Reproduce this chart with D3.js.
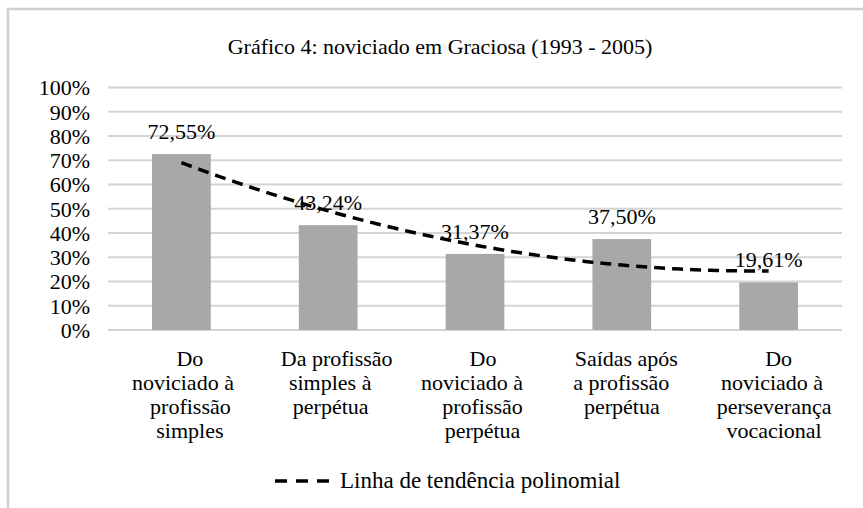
<!DOCTYPE html>
<html>
<head>
<meta charset="utf-8">
<script src="https://cdn.jsdelivr.net/npm/d3@7"></script>
<style>
  svg text, text, tspan { font-family: "Liberation Serif", "Times New Roman", Times, serif !important; }
</style>
</head>
<body style="margin:0; background:#fff">
<svg id="chart" width="863" height="508" style="display:block; font-family: 'Liberation Serif'"></svg>
<script>
// ---- data ----
const title = "Gráfico 4: noviciado em Graciosa (1993 - 2005)";
const categories = [
  "Do\nnoviciado à\nprofissão\nsimples",
  "Da profissão\nsimples à\nperpétua",
  "Do\nnoviciado à\nprofissão\nperpétua",
  "Saídas após\na profissão\nperpétua",
  "Do\nnoviciado à\nperseverança\nvocacional"
];
const values = [72.55, 43.24, 31.37, 37.50, 19.61];
const valueLabels = ["72,55%", "43,24%", "31,37%", "37,50%", "19,61%"];
const yTicks = [0, 10, 20, 30, 40, 50, 60, 70, 80, 90, 100];
const legendLabel = "Linha de tendência polinomial";

// ---- polynomial (order 2) least-squares trendline, as in the source spreadsheet ----
function polyFit2(ys) {
  const xs = ys.map((_, i) => i + 1);
  const n = xs.length;
  const S = k => d3.sum(xs, x => Math.pow(x, k));
  const T = k => d3.sum(xs.map((x, i) => Math.pow(x, k) * ys[i]));
  const A = [[n, S(1), S(2)], [S(1), S(2), S(3)], [S(2), S(3), S(4)]];
  const b = [T(0), T(1), T(2)];
  for (let i = 0; i < 3; i++) {
    for (let j = i + 1; j < 3; j++) {
      const f = A[j][i] / A[i][i];
      for (let k = i; k < 3; k++) A[j][k] -= f * A[i][k];
      b[j] -= f * b[i];
    }
  }
  const c = [0, 0, 0];
  for (let i = 2; i >= 0; i--) {
    let s = b[i];
    for (let k = i + 1; k < 3; k++) s -= A[i][k] * c[k];
    c[i] = s / A[i][i];
  }
  return x => c[0] + c[1] * x + c[2] * x * x;
}

// ---- layout ----
const svg = d3.select("#chart");
const plot = { left: 108, right: 842, top: 87.5, bottom: 330 };
const FS = 22;
// small horizontal nudges of wrapped category-label lines (layout only)
const lineNudge = [
  [8.5, 1.5, 9, 8.5],
  [8.5, 2, 2.5],
  [8, -3, 7.5, 7.5],
  [4.5, -0.5, 0],
  [10, 3.5, 5.5, 5.5]
];

svg.append("rect")
  .attr("x", 8).attr("y", 9).attr("width", 900).attr("height", 600)
  .attr("fill", "#fff").attr("stroke", "#cfcfcf").attr("stroke-width", 2.5);

const x = d3.scaleBand()
  .domain(d3.range(categories.length))
  .range([plot.left, plot.right])
  .paddingInner(0.6).paddingOuter(0.3);
const y = d3.scaleLinear().domain([0, 100]).range([plot.bottom, plot.top]);

function txt(sel, size = FS) {
  return sel
    .attr("font-family", "Liberation Serif")
    .attr("font-size", size)
    .attr("fill", "#000")
    .style("font-family", "'Liberation Serif'")
    .style("font-size", size + "px");
}

// title
svg.append("text")
  .attr("x", 440).attr("y", 54)
  .attr("text-anchor", "middle")
  .call(txt)
  .text(title);

// gridlines
svg.append("g").selectAll("line").data(yTicks).join("line")
  .attr("x1", plot.left).attr("x2", plot.right)
  .attr("y1", d => y(d)).attr("y2", d => y(d))
  .attr("stroke", "#d4d4d4").attr("stroke-width", 1.8);

// y axis labels
const yAxis = d3.axisLeft(y).tickValues(yTicks).tickFormat(d => d + "%").tickSize(0).tickPadding(18);
const gy = svg.append("g").attr("transform", `translate(${plot.left},0)`).call(yAxis);
gy.attr("font-family", "Liberation Serif").attr("font-size", FS);
gy.select(".domain").remove();
gy.selectAll("text").call(txt).attr("dy", "0.34em");

// bars
svg.append("g").selectAll("rect").data(values).join("rect")
  .attr("x", (d, i) => x(i))
  .attr("width", x.bandwidth())
  .attr("y", d => y(d))
  .attr("height", d => y(0) - y(d))
  .attr("fill", "#a8a8a8");

// data labels
svg.append("g").selectAll("text").data(values).join("text")
  .attr("x", (d, i) => x(i) + x.bandwidth() / 2)
  .attr("y", d => y(d) - 15)
  .attr("text-anchor", "middle")
  .call(txt)
  .text((d, i) => valueLabels[i]);

// category labels
const catG = svg.append("g");
categories.forEach((c, i) => {
  const t = catG.append("text")
    .attr("text-anchor", "middle")
    .call(txt);
  c.split("\n").forEach((line, j) => {
    t.append("tspan")
      .attr("x", x(i) + x.bandwidth() / 2 + lineNudge[i][j])
      .attr("y", 366 + j * 24)
      .text(line);
  });
});

// trendline
const fit = polyFit2(values);
const samples = d3.range(0, 4.0001, 0.05).map(t => t + 1);
const line = d3.line()
  .x(t => x(0) + x.bandwidth() / 2 + (t - 1) * x.step())
  .y(t => y(fit(t)));
svg.append("path")
  .datum(samples)
  .attr("d", line)
  .attr("fill", "none")
  .attr("stroke", "#000")
  .attr("stroke-width", 3.5)
  .attr("stroke-dasharray", "11,7");

// legend
const lg = svg.append("g");
lg.append("line")
  .attr("x1", 275).attr("x2", 334).attr("y1", 481).attr("y2", 481)
  .attr("stroke", "#000").attr("stroke-width", 3.5)
  .attr("stroke-dasharray", "12,9");
lg.append("text")
  .attr("x", 340).attr("y", 488)
  .call(txt, 23)
  .text(legendLabel);
</script>
</body>
</html>
